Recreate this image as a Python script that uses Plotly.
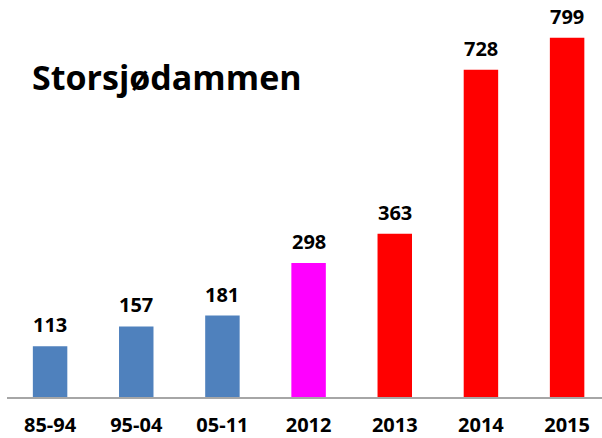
import plotly.graph_objects as go

categories = ["85-94", "95-04", "05-11", "2012", "2013", "2014", "2015"]
values = [113, 157, 181, 298, 363, 728, 799]
colors = ["#4F81BD", "#4F81BD", "#4F81BD", "#FF00FF", "#FF0000", "#FF0000", "#FF0000"]
title_text = "Storsjødammen"

fig = go.Figure()
fig.add_trace(go.Bar(
    x=categories, y=values, marker=dict(color=colors, line=dict(width=0)),
    width=0.4, hoverinfo="skip",
))

for i, v in enumerate(values):
    fig.add_annotation(x=i, y=v, text=str(v), showarrow=False, yanchor="bottom",
                       yshift=6, font=dict(family="Open Sans", size=20, color="#000000", weight="bold"))

fig.add_annotation(xref="paper", yref="paper", x=0.038, y=0.807, xanchor="left", yanchor="middle",
                   text="<b>" + title_text + "</b>", showarrow=False,
                   font=dict(family="Open Sans", size=34, color="#000000"))

fig.update_layout(
    width=602, height=438,
    margin=dict(l=7, r=0, t=0, b=41, autoexpand=False),
    paper_bgcolor="white", plot_bgcolor="white",
    showlegend=False,
    font=dict(family="Open Sans"),
    xaxis=dict(type="category", range=[-0.5, 6.405], automargin=False, showgrid=False,
               showline=True, linecolor="#A6A6A6", linewidth=1.5,
               ticks="outside", ticklen=9, tickcolor="rgba(0,0,0,0)",
               tickfont=dict(family="Open Sans", size=20, color="#000000", weight="bold")),
    yaxis=dict(range=[0, 883], visible=False, showgrid=False, automargin=False),
)

fig.write_html("out.html", config={"displayModeBar": False},
               post_script="document.body.style.margin='0';document.body.style.overflow='hidden';")
